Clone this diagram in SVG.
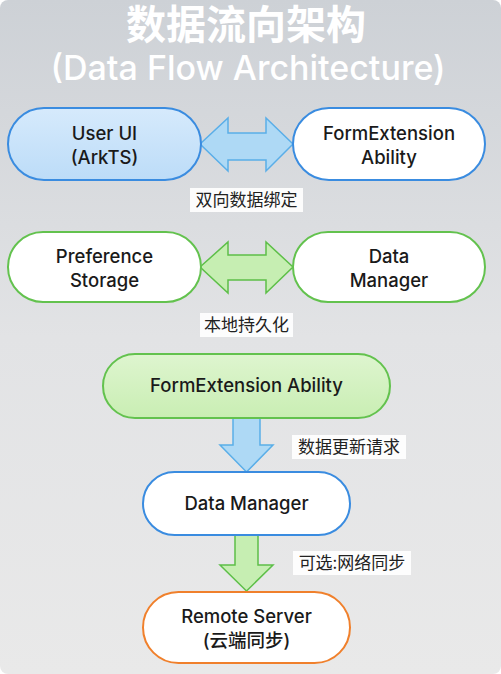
<svg xmlns="http://www.w3.org/2000/svg" width="501" height="674" viewBox="0 0 501 674">
<defs>
<linearGradient id="bg" x1="0" y1="0" x2="0" y2="1">
<stop offset="0" stop-color="#cdd1d6"/>
<stop offset="0.5" stop-color="#e2e3e5"/>
<stop offset="1" stop-color="#e9e9e9"/>
</linearGradient>
<linearGradient id="blueFill" x1="0" y1="0" x2="0" y2="1">
<stop offset="0" stop-color="#d6eafc"/>
<stop offset="1" stop-color="#bcdcf8"/>
</linearGradient>
<linearGradient id="greenFill" x1="0" y1="0" x2="0" y2="1">
<stop offset="0" stop-color="#def5cf"/>
<stop offset="1" stop-color="#c9eeb3"/>
</linearGradient>
</defs>
<style>
.t{font-family:Inter,Roboto,"Noto Sans CJK SC",sans-serif;font-size:18.5px;font-weight:500;fill:#1a1a1a;text-anchor:middle}
.lbl{font-family:"Noto Sans CJK SC",sans-serif;font-size:17px;fill:#222;text-anchor:middle}
.lb{fill:#ffffff;opacity:0.9}
.blue{stroke:#3a8ce0;stroke-width:2}
.green{stroke:#63c24e;stroke-width:2}
.orange{stroke:#f0802c;stroke-width:2}
.ab{fill:#aed9f5;stroke:#5aaee8;stroke-width:1.5}
.ag{fill:#c6eeb2;stroke:#5dbf48;stroke-width:1.5}
.title{font-family:Inter,"Noto Sans CJK SC",sans-serif;fill:#ffffff;text-anchor:middle}
</style>
<rect x="0" y="0" width="501" height="674" rx="8" fill="url(#bg)"/>
<text class="title" x="246" y="39" font-size="40" font-weight="bold">数据流向架构</text>
<text class="title" x="248" y="80" font-size="34" font-weight="500">(Data Flow Architecture)</text>

<g id="connectors">
<path class="ab" d="M200,144 L228,118 L228,133 L266,133 L266,118 L293,144 L266,171 L266,160 L228,160 L228,171 Z"/>
<path class="ag" d="M200,267 L228,242 L228,255 L266,255 L266,242 L293,267 L266,293 L266,280 L228,280 L228,293 Z"/>
<path class="ab" d="M233,418 L260,418 L260,445 L273,445 L246.5,472 L220,445 L233,445 Z"/>
<path class="ag" d="M235,535 L258,535 L258,565 L273,565 L246.5,591 L220,565 L235,565 Z"/>
<rect class="lb" x="190" y="188" width="113" height="24"/>
<text class="lbl" x="246.5" y="206">双向数据绑定</text>
<rect class="lb" x="200" y="313" width="93" height="24"/>
<text class="lbl" x="246.5" y="331">本地持久化</text>
<rect class="lb" x="292" y="435" width="114" height="24"/>
<text class="lbl" x="349" y="453">数据更新请求</text>
<rect class="lb" x="293" y="551" width="118" height="24"/>
<text class="lbl" x="352" y="569">可选:网络同步</text>
</g>

<g id="user-ui">
<rect class="blue" x="8" y="108" width="193" height="72" rx="36" fill="url(#blueFill)"/>
<text class="t" x="104.5" y="140">User UI</text>
<text class="t" x="104.5" y="164">(ArkTS)</text>
</g>
<g id="form-ext-1">
<rect class="blue" x="293" y="108" width="192" height="72" rx="36" fill="#ffffff"/>
<text class="t" x="389" y="140">FormExtension</text>
<text class="t" x="389" y="164">Ability</text>
</g>
<g id="pref-storage">
<rect class="green" x="8" y="232" width="193" height="70" rx="35" fill="#ffffff"/>
<text class="t" x="104.5" y="263">Preference</text>
<text class="t" x="104.5" y="287">Storage</text>
</g>
<g id="data-manager-1">
<rect class="green" x="293" y="232" width="192" height="70" rx="35" fill="#ffffff"/>
<text class="t" x="389" y="263">Data</text>
<text class="t" x="389" y="287">Manager</text>
</g>
<g id="form-ext-2">
<rect class="green" x="103" y="354" width="287" height="64" rx="32" fill="url(#greenFill)"/>
<text class="t" x="246.5" y="392">FormExtension Ability</text>
</g>
<g id="data-manager-2">
<rect class="blue" x="143" y="472" width="207" height="63" rx="31.5" fill="#ffffff"/>
<text class="t" x="246.5" y="510">Data Manager</text>
</g>
<g id="remote-server">
<rect class="orange" x="143" y="592" width="207" height="71" rx="35.5" fill="#ffffff"/>
<text class="t" x="246.5" y="623">Remote Server</text>
<text class="t" x="246.5" y="647">(云端同步)</text>
</g>
</svg>
